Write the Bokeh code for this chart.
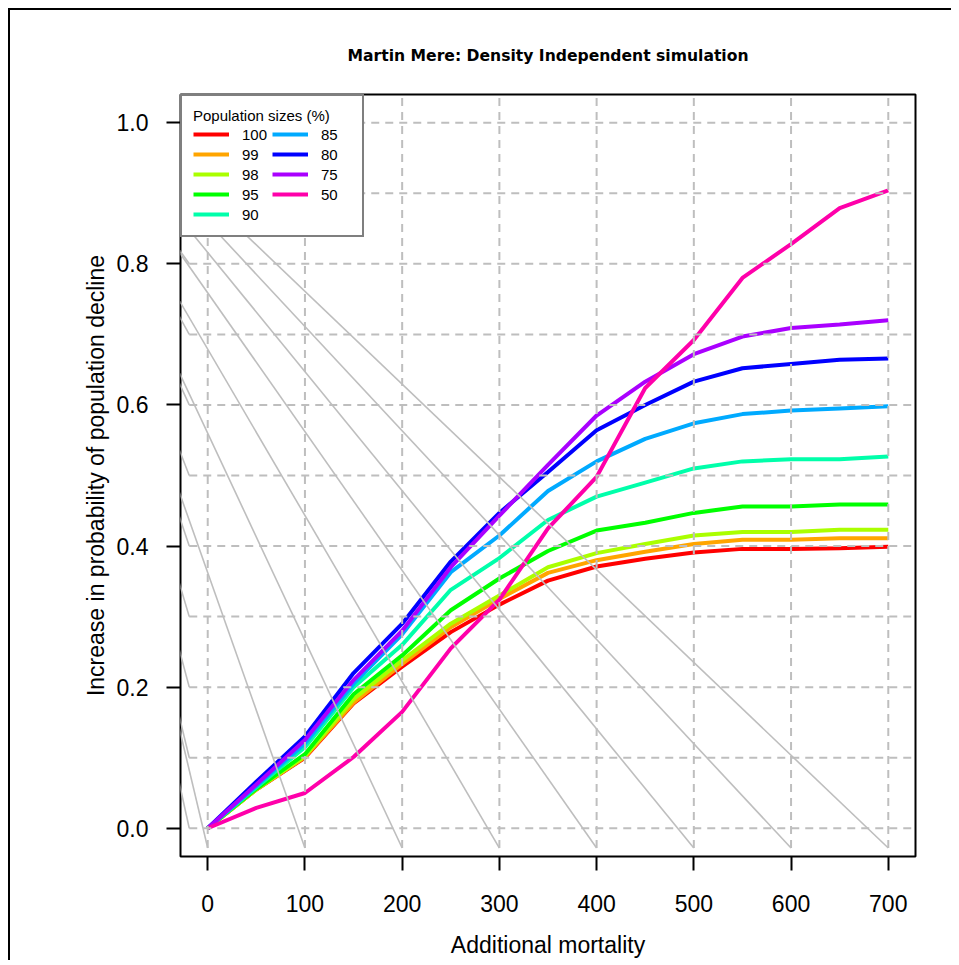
import numpy as np
from bokeh.plotting import figure
from bokeh.models import Range1d, FixedTicker, Legend, LegendItem, NumeralTickFormatter
from bokeh.embed import file_html
from bokeh.resources import INLINE

# ---------------- data ----------------
mortality = [0, 50, 100, 150, 200, 250, 300, 350, 400, 450, 500, 550, 600, 650, 700]

pop_100 = [0, 0.055, 0.100, 0.177, 0.229, 0.278, 0.317, 0.351, 0.371, 0.382, 0.391, 0.396, 0.396, 0.397, 0.399]
pop_99 = [0, 0.055, 0.101, 0.178, 0.233, 0.285, 0.325, 0.362, 0.380, 0.392, 0.403, 0.409, 0.409, 0.411, 0.411]
pop_98 = [0, 0.055, 0.102, 0.183, 0.238, 0.290, 0.330, 0.370, 0.390, 0.403, 0.415, 0.420, 0.420, 0.423, 0.423]
pop_95 = [0, 0.056, 0.105, 0.190, 0.245, 0.309, 0.354, 0.393, 0.422, 0.433, 0.447, 0.456, 0.456, 0.459, 0.459]
pop_90 = [0, 0.058, 0.115, 0.200, 0.260, 0.338, 0.383, 0.437, 0.470, 0.490, 0.510, 0.520, 0.523, 0.523, 0.527]
pop_85 = [0, 0.060, 0.120, 0.205, 0.275, 0.363, 0.415, 0.478, 0.520, 0.552, 0.574, 0.587, 0.592, 0.595, 0.598]
pop_80 = [0, 0.066, 0.130, 0.220, 0.290, 0.378, 0.447, 0.505, 0.564, 0.600, 0.633, 0.652, 0.658, 0.664, 0.666]
pop_75 = [0, 0.062, 0.125, 0.210, 0.280, 0.370, 0.443, 0.515, 0.585, 0.633, 0.672, 0.697, 0.709, 0.714, 0.720]
pop_50 = [0, 0.029, 0.050, 0.101, 0.165, 0.255, 0.324, 0.425, 0.498, 0.624, 0.692, 0.780, 0.828, 0.879, 0.904]

series_labels = ["100", "99", "98", "95", "90", "85", "80", "75", "50"]
series_values = [pop_100, pop_99, pop_98, pop_95, pop_90, pop_85, pop_80, pop_75, pop_50]
series_colors = ["#FF0000", "#FFA500", "#AAFF00", "#00FF00", "#00FFAA",
                 "#00AAFF", "#0000FF", "#AA00FF", "#FF00AA"]

x_ticks = [0, 100, 200, 300, 400, 500, 600, 700]
y_ticks = [0.0, 0.2, 0.4, 0.6, 0.8, 1.0]
y_grid = [0.0, 0.1, 0.2, 0.3, 0.4, 0.5, 0.6, 0.7, 0.8, 0.9, 1.0]

FONT = "Liberation Sans"

p = figure(frame_width=735, frame_height=762,
           x_range=Range1d(-28, 728), y_range=Range1d(-0.04, 1.04),
           output_backend="svg", toolbar_location=None,
           min_border_left=170, min_border_right=36,
           min_border_top=84, min_border_bottom=100,
           background_fill_color="white", border_fill_color="white")
p.styles = {"margin-left": "8px", "margin-top": "8px",
            "border-top": "2px solid black", "border-left": "2px solid black"}

p.title.text = "Martin Mere: Density Independent simulation"
p.title.align = "center"
p.title.text_font = "DejaVu Sans"
p.title.text_font_style = "bold"
p.title.text_font_size = "15.6px"
p.title.text_color = "black"
p.title.standoff = 60

p.outline_line_color = "black"
p.outline_line_width = 2
p.outline_line_alpha = 1

p.xgrid.visible = False
p.ygrid.visible = False

# ---------------- curves ----------------
items = []
for lab, vals, col in zip(series_labels, series_values, series_colors):
    r = p.line(mortality, vals, line_color=col, line_width=4)
    items.append(LegendItem(label=lab, renderers=[r]))

# ---------------- dashed grid (drawn over curves) ----------------
x_left_end = -19
y_bottom_end = -0.028
p.segment(x0=[x_left_end] * len(y_grid), y0=y_grid, x1=[760] * len(y_grid), y1=y_grid,
          line_color="#BEBEBE", line_width=2, line_dash="8 6")
p.segment(x0=x_ticks, y0=[y_bottom_end] * len(x_ticks), x1=x_ticks, y1=[1.1] * len(x_ticks),
          line_color="#BEBEBE", line_width=2, line_dash="8 6")

# ---------------- grey lines radiating from the device corner ----------------
corner_x, corner_y = -204.9, 1.162
ends_x = list(x_ticks) + [x_left_end] * len(y_grid)
ends_y = [y_bottom_end] * len(x_ticks) + list(y_grid)
p.segment(x0=[corner_x] * len(ends_x), y0=[corner_y] * len(ends_x), x1=ends_x, y1=ends_y,
          line_color="#BEBEBE", line_width=1.6)

# ---------------- axes ----------------
for ax in (p.xaxis[0], p.yaxis[0]):
    ax.axis_line_color = None
    ax.major_tick_line_color = "black"
    ax.major_tick_line_width = 2
    ax.major_tick_out = 14
    ax.major_tick_in = 0
    ax.minor_tick_line_color = None
    ax.major_label_text_font = FONT
    ax.major_label_text_font_size = "23px"
    ax.major_label_text_color = "black"
    ax.axis_label_text_font = FONT
    ax.axis_label_text_font_size = "23px"
    ax.axis_label_text_font_style = "normal"
    ax.axis_label_text_color = "black"

p.xaxis.ticker = FixedTicker(ticks=x_ticks)
p.yaxis.ticker = FixedTicker(ticks=y_ticks)
p.yaxis.formatter = NumeralTickFormatter(format="0.0")
p.yaxis.major_label_orientation = "horizontal"
p.xaxis.axis_label = "Additional mortality"
p.yaxis.axis_label = "Increase in probability of population decline"
p.xaxis.major_label_standoff = 24
p.yaxis.major_label_standoff = 18
p.xaxis.axis_label_standoff = 17
p.yaxis.axis_label_standoff = 5

# ---------------- legend ----------------
legend = Legend(items=items, location="top_left", ncols=2,
                title="Population sizes (%)",
                title_text_font=FONT, title_text_font_size="15px",
                title_text_font_style="normal", title_text_color="black",
                title_standoff=0,
                label_text_font=FONT, label_text_font_size="15px",
                label_text_color="black",
                label_standoff=13, label_height=20, label_width=30,
                glyph_width=36, glyph_height=20,
                padding=11, spacing=0, margin=0,
                border_line_color="black", border_line_width=2,
                background_fill_color="white", background_fill_alpha=1)
p.add_layout(legend)

open("out.html", "w").write(file_html(p, INLINE))
